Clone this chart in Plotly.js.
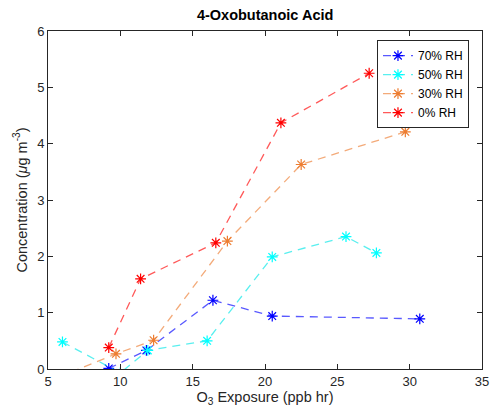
<!DOCTYPE html>
<html>
<head>
<meta charset="utf-8">
<script src="https://cdn.plot.ly/plotly-3.0.1.min.js"></script>
<style>html,body{margin:0;padding:0;background:#fff;}#chart{width:491px;height:415px;}</style>
</head>
<body>
<div id="chart"></div>
<script>
// Data
const seriesNames = ["70% RH", "50% RH", "30% RH", "0% RH"];
const x70 = [9.2, 11.8, 16.4, 20.5, 30.7];
const y70 = [0.01, 0.33, 1.22, 0.94, 0.89];
const x50 = [6.0, 10.0, 11.9, 16.0, 20.5, 25.6, 27.7];
const y50 = [0.48, -0.07, 0.33, 0.50, 1.99, 2.35, 2.06];
const x30 = [5.7, 9.7, 12.3, 17.4, 22.5, 29.7];
const y30 = [-0.15, 0.27, 0.51, 2.27, 3.63, 4.21];
const x0 = [9.2, 11.4, 16.6, 21.1, 27.2];
const y0 = [0.38, 1.60, 2.24, 4.37, 5.25];
const xTicks = [5, 10, 15, 20, 25, 30, 35];
const yTicks = [0, 1, 2, 3, 4, 5, 6];

const markerColors = ["rgb(0,0,255)", "rgb(0,255,255)", "rgb(237,125,49)", "rgb(255,0,0)"];
const lineColors = ["rgba(0,0,255,0.65)", "rgba(0,230,230,0.65)", "rgba(237,125,49,0.65)", "rgba(255,0,0,0.65)"];
const xs = [x70, x50, x30, x0];
const ys = [y70, y50, y30, y0];

const traces = seriesNames.map((n, i) => ({
  x: xs[i], y: ys[i], name: n, type: "scatter", mode: "lines+markers",
  line: {color: lineColors[i], width: 1.3, dash: "8px,6px"},
  marker: {symbol: "asterisk-open", size: 9, color: markerColors[i], line: {color: markerColors[i], width: 1.2}},
  cliponaxis: true
}));

const axisCommon = {
  showline: true, linecolor: "#262626", linewidth: 1, mirror: "ticks",
  ticks: "inside", ticklen: 5, tickcolor: "#262626", tickwidth: 1,
  showgrid: false, zeroline: false,
  tickfont: {family: "Liberation Sans, Arial, sans-serif", size: 13, color: "#262626"}
};

const layout = {
  width: 491, height: 415,
  margin: {l: 48, r: 9, t: 31, b: 46},
  paper_bgcolor: "#fff", plot_bgcolor: "#fff",
  font: {family: "Liberation Sans, Arial, sans-serif", color: "#262626"},
  title: {text: "<b>4-Oxobutanoic Acid</b>", font: {size: 14.5, color: "#000"}, x: 0.54, xanchor: "center", y: 0.964, yanchor: "middle"},
  xaxis: Object.assign({}, axisCommon, {range: [5, 35], tickvals: xTicks, ticktext: xTicks.map(String),
    title: {text: "O<sub>3</sub> Exposure (ppb hr)", font: {size: 14.5, color: "#262626"}, standoff: 3}}),
  yaxis: Object.assign({}, axisCommon, {range: [0, 6], tickvals: yTicks, ticktext: yTicks.map(String),
    title: {text: "Concentration (<i>μ</i>g m<sup>-3</sup>)", font: {size: 14.5, color: "#262626"}, standoff: 6}}),
  showlegend: true,
  legend: {x: 0.970, xanchor: "right", y: 0.973, yanchor: "top", bgcolor: "#fff",
    bordercolor: "#262626", borderwidth: 1, font: {size: 12, color: "#000"}, tracegroupgap: 0}
};

Plotly.newPlot("chart", traces, layout, {displayModeBar: false, staticPlot: true});
</script>
</body>
</html>
